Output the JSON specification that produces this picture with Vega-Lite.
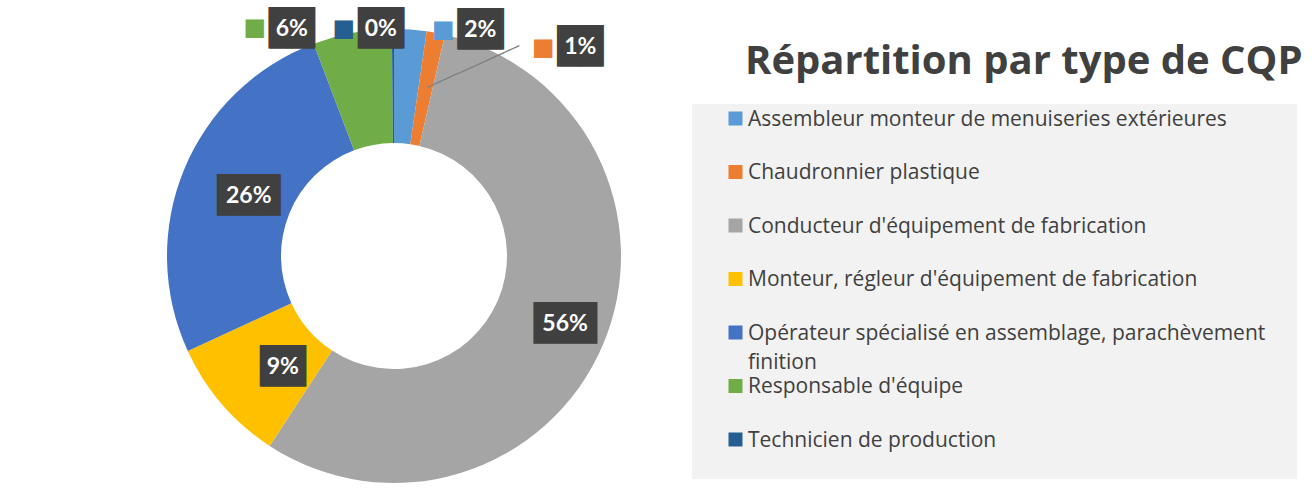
{
  "$schema": "https://vega.github.io/schema/vega-lite/v6.json",
  "autosize": {"type": "none"},
  "width": 788,
  "height": 468,
  "padding": {"left": 0, "top": 22, "right": 528, "bottom": 0},
  "background": "white",
  "config": {"view": {"stroke": null}, "font": "Open Sans"},
  "title": {
    "text": "Répartition par type de CQP",
    "anchor": "start",
    "frame": "group",
    "orient": "top",
    "font": "Open Sans",
    "fontSize": 40,
    "fontWeight": "bold",
    "color": "#404040",
    "baseline": "alphabetic",
    "dx": 745,
    "dy": 110
  },
  "data": {
    "values": [
      {"type": "Assembleur monteur de menuiseries extérieures", "value": 0.023},
      {"type": "Chaudronnier plastique", "value": 0.013},
      {"type": "Conducteur d'équipement de fabrication", "value": 0.556},
      {"type": "Monteur, régleur d'équipement de fabrication", "value": 0.089},
      {"type": "Opérateur spécialisé en assemblage, parachèvement finition", "value": 0.261},
      {"type": "Responsable d'équipe", "value": 0.056},
      {"type": "Technicien de production", "value": 0.0015}
    ]
  },
  "encoding": {
    "theta": {"field": "value", "type": "quantitative", "stack": true},
    "order": {"field": "type", "type": "ordinal", "sort": "ascending"},
    "detail": {"field": "type"},
    "color": {
      "field": "type",
      "type": "nominal",
      "scale": {
        "domain": [
          "Assembleur monteur de menuiseries extérieures",
          "Chaudronnier plastique",
          "Conducteur d'équipement de fabrication",
          "Monteur, régleur d'équipement de fabrication",
          "Opérateur spécialisé en assemblage, parachèvement finition",
          "Responsable d'équipe",
          "Technicien de production"
        ],
        "range": ["#5B9BD5", "#ED7D31", "#A5A5A5", "#FFC000", "#4472C4", "#70AD47", "#255E91"]
      },
      "legend": {
        "orient": "none",
        "legendX": 692,
        "legendY": 82,
        "title": " ",
        "titleOrient": "right",
        "titlePadding": 28,
        "titleFontSize": 2,
        "direction": "vertical",
        "fillColor": "#F2F2F2",
        "padding": 4,
        "symbolType": "square",
        "symbolSize": 196,
        "symbolStrokeWidth": 0,
        "symbolOpacity": 1,
        "symbolOffset": 29,
        "labelOffset": 2,
        "labelFont": "Open Sans",
        "labelFontSize": 21,
        "labelColor": "#404040",
        "labelLimit": 700,
        "labelBaseline": "alphabetic",
        "gridAlign": "all",
        "rowPadding": 2.5,
        "labelExpr": "indexof(datum.label, 'Opérateur') == 0 ? ['Opérateur spécialisé en assemblage, parachèvement', 'finition'] : indexof(datum.label, 'Technicien') == 0 ? ['Technicien de production', '\u00a0'] : datum.label",
        "encode": {
          "labels": {"update": {"dy": {"value": 7}, "lineHeight": {"signal": "indexof(datum.label, 'Technicien') == 0 ? 24 : 29"}}}
        }
      }
    }
  },
  "layer": [
    {"mark": {"type": "arc", "innerRadius": 113, "outerRadius": 227}},
    {
      "layer": [
        {"mark": {"type": "text", "radius": 186, "dy": -5, "font": "DejaVu Sans Mono", "fontSize": 35, "baseline": "middle", "align": "center"},
         "encoding": {"color": {"value": "#404040"}, "text": {"condition": {"test": "indexof(datum.type,'Conducteur')==0", "value": "███"}, "value": ""}}},
        {"mark": {"type": "text", "radius": 186, "dy": -5, "font": "Lato", "fontWeight": "bold", "fontSize": 23, "baseline": "middle", "align": "center"},
         "encoding": {"color": {"value": "#FFFFFF"}, "text": {"condition": {"test": "indexof(datum.type,'Conducteur')==0", "field": "value", "type": "quantitative", "format": ".0%"}, "value": ""}}}
      ]
    },
    {
      "layer": [
        {"mark": {"type": "text", "radius": 160, "dx": 10, "dy": 7, "font": "DejaVu Sans Mono", "fontSize": 35, "baseline": "middle", "align": "center"},
         "encoding": {"color": {"value": "#404040"}, "text": {"condition": {"test": "indexof(datum.type,'Monteur')==0", "value": "▕██▏"}, "value": ""}}},
        {"mark": {"type": "text", "radius": 160, "dx": 10, "dy": 7, "font": "Lato", "fontWeight": "bold", "fontSize": 23, "baseline": "middle", "align": "center"},
         "encoding": {"color": {"value": "#FFFFFF"}, "text": {"condition": {"test": "indexof(datum.type,'Monteur')==0", "field": "value", "type": "quantitative", "format": ".0%"}, "value": ""}}}
      ]
    },
    {
      "layer": [
        {"mark": {"type": "text", "radius": 157, "font": "DejaVu Sans Mono", "fontSize": 35, "baseline": "middle", "align": "center"},
         "encoding": {"color": {"value": "#404040"}, "text": {"condition": {"test": "indexof(datum.type,'Opérateur')==0", "value": "███"}, "value": ""}}},
        {"mark": {"type": "text", "radius": 157, "font": "Lato", "fontWeight": "bold", "fontSize": 23, "baseline": "middle", "align": "center"},
         "encoding": {"color": {"value": "#FFFFFF"}, "text": {"condition": {"test": "indexof(datum.type,'Opérateur')==0", "field": "value", "type": "quantitative", "format": ".0%"}, "value": ""}}}
      ]
    },
    {
      "layer": [
        {"mark": {"type": "text", "radius": 240, "dx": -58, "dy": 9, "font": "DejaVu Sans Mono", "fontSize": 35, "baseline": "middle", "align": "center"},
         "encoding": {"color": {"value": "#404040"}, "text": {"condition": {"test": "indexof(datum.type,'Responsable')==0", "value": "▕██▏"}, "value": ""}}},
        {"mark": {"type": "text", "radius": 240, "dx": -58, "dy": 9, "font": "Lato", "fontWeight": "bold", "fontSize": 23, "baseline": "middle", "align": "center"},
         "encoding": {"color": {"value": "#FFFFFF"}, "text": {"condition": {"test": "indexof(datum.type,'Responsable')==0", "field": "value", "type": "quantitative", "format": ".0%"}, "value": ""}}},
        {"mark": {"type": "text", "radius": 240, "dx": -95, "dy": 8, "font": "DejaVu Sans", "fontSize": 24, "baseline": "middle", "align": "center"},
         "encoding": {"text": {"condition": {"test": "indexof(datum.type,'Responsable')==0", "value": "■"}, "value": ""}}}
      ]
    },
    {
      "layer": [
        {"mark": {"type": "text", "radius": 240, "dx": -12, "dy": 13, "font": "DejaVu Sans Mono", "fontSize": 35, "baseline": "middle", "align": "center"},
         "encoding": {"color": {"value": "#404040"}, "text": {"condition": {"test": "indexof(datum.type,'Technicien')==0", "value": "▕██▏"}, "value": ""}}},
        {"mark": {"type": "text", "radius": 240, "dx": -12, "dy": 13, "font": "Lato", "fontWeight": "bold", "fontSize": 23, "baseline": "middle", "align": "center"},
         "encoding": {"color": {"value": "#FFFFFF"}, "text": {"condition": {"test": "indexof(datum.type,'Technicien')==0", "field": "value", "type": "quantitative", "format": ".0%"}, "value": ""}}},
        {"mark": {"type": "text", "radius": 240, "dx": -49, "dy": 13, "font": "DejaVu Sans", "fontSize": 24, "baseline": "middle", "align": "center"},
         "encoding": {"text": {"condition": {"test": "indexof(datum.type,'Technicien')==0", "value": "■"}, "value": ""}}}
      ]
    },
    {
      "layer": [
        {"mark": {"type": "text", "radius": 240, "dx": 69, "dy": 13, "font": "DejaVu Sans Mono", "fontSize": 35, "baseline": "middle", "align": "center"},
         "encoding": {"color": {"value": "#404040"}, "text": {"condition": {"test": "indexof(datum.type,'Assembleur')==0", "value": "▕██▏"}, "value": ""}}},
        {"mark": {"type": "text", "radius": 240, "dx": 69, "dy": 13, "font": "Lato", "fontWeight": "bold", "fontSize": 23, "baseline": "middle", "align": "center"},
         "encoding": {"color": {"value": "#FFFFFF"}, "text": {"condition": {"test": "indexof(datum.type,'Assembleur')==0", "field": "value", "type": "quantitative", "format": ".0%"}, "value": ""}}},
        {"mark": {"type": "text", "radius": 240, "dx": 32, "dy": 13, "font": "DejaVu Sans", "fontSize": 24, "baseline": "middle", "align": "center"},
         "encoding": {"text": {"condition": {"test": "indexof(datum.type,'Assembleur')==0", "value": "■"}, "value": ""}}}
      ]
    },
    {
      "layer": [
        {"mark": {"type": "text", "radius": 240, "angle": -24.3, "dx": 12.7, "dy": 57.5, "font": "DejaVu Sans Mono", "fontSize": 14, "baseline": "middle", "align": "center"},
         "encoding": {"color": {"value": "#7F7F7F"}, "text": {"condition": {"test": "indexof(datum.type,'Chaudronnier')==0", "value": "────────────"}, "value": ""}}},
        {"mark": {"type": "text", "radius": 240, "dx": 142, "dy": 27, "font": "DejaVu Sans Mono", "fontSize": 35, "baseline": "middle", "align": "center"},
         "encoding": {"color": {"value": "#404040"}, "text": {"condition": {"test": "indexof(datum.type,'Chaudronnier')==0", "value": "▕██▏"}, "value": ""}}},
        {"mark": {"type": "text", "radius": 240, "dx": 142, "dy": 27, "font": "Lato", "fontWeight": "bold", "fontSize": 23, "baseline": "middle", "align": "center"},
         "encoding": {"color": {"value": "#FFFFFF"}, "text": {"condition": {"test": "indexof(datum.type,'Chaudronnier')==0", "field": "value", "type": "quantitative", "format": ".0%"}, "value": ""}}},
        {"mark": {"type": "text", "radius": 240, "dx": 105, "dy": 28, "font": "DejaVu Sans", "fontSize": 24, "baseline": "middle", "align": "center"},
         "encoding": {"text": {"condition": {"test": "indexof(datum.type,'Chaudronnier')==0", "value": "■"}, "value": ""}}}
      ]
    }
  ]
}
